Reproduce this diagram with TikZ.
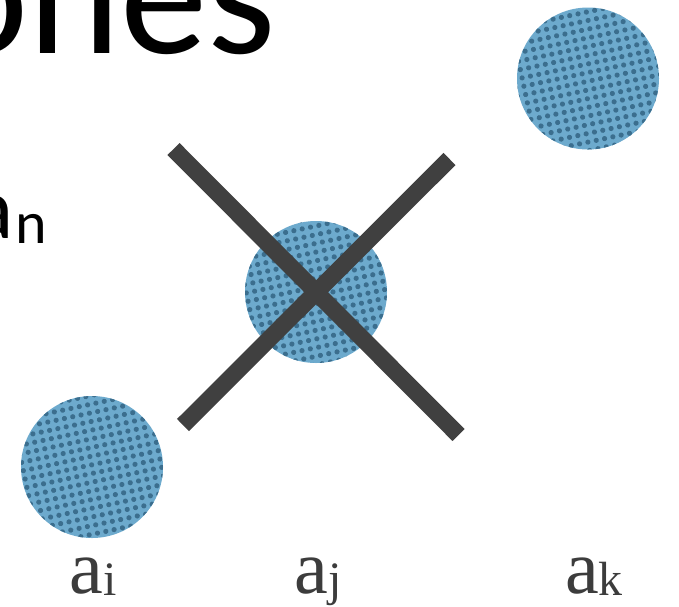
\documentclass[tikz,border=0pt]{standalone}
\usepackage{fontspec}
\setmainfont{Liberation Serif}
\newfontfamily\carlito{Carlito}
\usetikzlibrary{patterns.meta}
\definecolor{dotbase}{HTML}{6DAACD}
\definecolor{dotdark}{HTML}{3B6E8E}
\definecolor{crossgray}{HTML}{404040}
\definecolor{labelgray}{HTML}{3C3C3C}
\tikzset{
  dotcirc/.style={circle, minimum size=142pt, inner sep=0pt,
    preaction={fill=dotbase},
    pattern={Dots[distance=8.5pt, radius=2.6pt, angle=12]}, pattern color=dotdark},
  crossbar/.style={draw=crossgray, line width=17pt, line cap=butt},
  seriflabel/.style={anchor=base, text=labelgray, inner sep=0pt,
    font=\fontsize{76}{76}\selectfont},
  slidetext/.style={inner sep=0pt, text=black}
}
\newcommand{\lblsub}[1]{\raisebox{-2pt}{\fontsize{48}{48}\selectfont #1}}
\begin{document}
\begin{tikzpicture}[x=1pt,y=-1pt]
\useasboundingbox (0,0) rectangle (679,606);
\clip (0,0) rectangle (679,606);
% clipped slide text
\node[slidetext, anchor=base east, font=\carlito\fontsize{175}{175}\selectfont] (title) at (276,53) {ones};
\node[slidetext, anchor=base east, font=\carlito\fontsize{88}{88}\selectfont] (an) at (47,238)
  {a\kern2pt\raisebox{-5pt}{\fontsize{60}{60}\selectfont n}};
% circles
\node[dotcirc] (ci) at (92,467) {};
\node[dotcirc] (cj) at (316,292) {};
\node[dotcirc] (ck) at (588,78.5) {};
% cross
\coordinate (x1a) at (173.5,149);
\coordinate (x1b) at (458.5,435);
\coordinate (x2a) at (183,425);
\coordinate (x2b) at (449.5,159);
\draw[crossbar] (x1a) -- (x1b);
\draw[crossbar] (x2a) -- (x2b);
% labels
\node[seriflabel] (li) at (93,593) {a\lblsub{i}};
\node[seriflabel] (lj) at (318,593) {a\lblsub{j}};
\node[seriflabel] (lk) at (594,593) {a\lblsub{k}};
\end{tikzpicture}
\end{document}
